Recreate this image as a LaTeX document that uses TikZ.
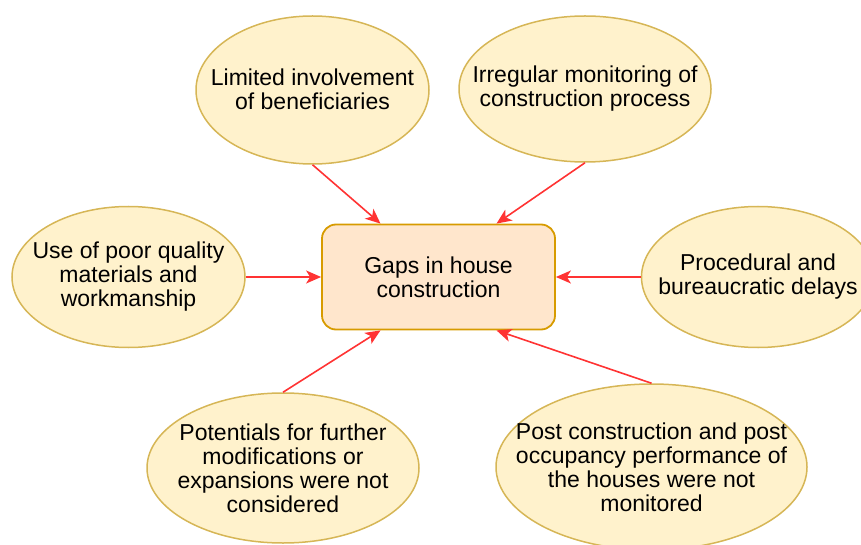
\documentclass[tikz,border=0pt]{standalone}
\usepackage{fontspec}
\setmainfont{Liberation Sans}
\usetikzlibrary{shapes.geometric, arrows.meta, calc}
\definecolor{causefill}{HTML}{FFF2CC}
\definecolor{causeline}{HTML}{D6B656}
\definecolor{gapfill}{HTML}{FFE6CC}
\definecolor{gapline}{HTML}{D79B00}
\definecolor{arrowred}{HTML}{FF3333}
\tikzset{
  gaps/.style={
	x=1pt, y=-1pt, % one unit is one pixel of the sketch
	>={Stealth[length=15pt, width=13pt, inset=4pt]}, % the red arrow heads
	cause/.style={ellipse, draw=causeline, fill=causefill, line width=1.5pt, inner sep=0pt}, % the yellow bubbles
	problem/.style={rectangle, rounded corners=14pt, draw=gapline, fill=gapfill, line width=1.8pt}, % the box in the middle
	txt/.style={align=center, inner sep=0pt, font=\fontsize{23}{24}\selectfont}, % all the texts
	link/.style={->, color=arrowred, line width=1.6pt}, % the edges
  }
}

\begin{document}
\begin{tikzpicture}[gaps]
\useasboundingbox (0,0) rectangle (861,545);

\node[problem, minimum width=233pt, minimum height=105pt] (gap) at (438.5,277) {};
\node[txt] (gap-t) at (gap) {Gaps in house\\construction};

\node[cause, minimum width=233pt, minimum height=148pt] (limited) at (312.5,90) {};
\node[txt] (limited-t) at ([yshift=1pt]limited) {Limited involvement\\of beneficiaries};
\node[cause, minimum width=252pt, minimum height=146pt] (irregular) at (585,89) {};
\node[txt] (irregular-t) at (irregular) {Irregular monitoring of\\construction process};
\node[cause, minimum width=233pt, minimum height=141pt] (quality) at (128.5,277) {};
\node[txt] (quality-t) at (quality) {Use of poor quality\\materials and\\workmanship};
\node[cause, minimum width=233pt, minimum height=141pt] (delays) at (758,277) {};
\node[txt] (delays-t) at (delays) {Procedural and\\bureaucratic delays};
\node[cause, minimum width=272pt, minimum height=150pt] (potential) at (283,468) {};
\node[txt] (potential-t) at (potential) {Potentials for further\\modifications or\\expansions were not\\considered};
\node[cause, minimum width=311pt, minimum height=166pt] (post) at (651.5,467) {};
\node[txt] (post-t) at (post) {Post construction and post\\occupancy performance of\\the houses were not\\monitored};

% causes point at the gap box
\draw[link] (limited.south) -- ($(gap.north)+(-58,0)$);
\draw[link] (irregular.south) -- ($(gap.north)+(58,0)$);
\draw[link] (quality.east) -- (gap.west);
\draw[link] (delays.west) -- (gap.east);
\draw[link] (potential.north) -- ($(gap.south)+(-58,0)$);
\draw[link] (post.north) -- ($(gap.south)+(58,0)$);
\end{tikzpicture}
\end{document}
